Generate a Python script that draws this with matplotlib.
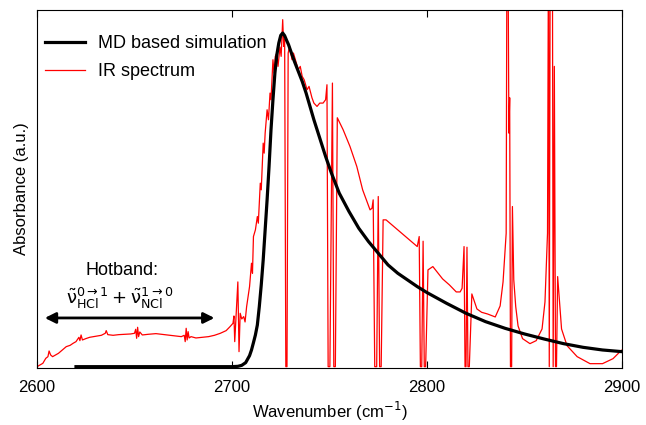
import numpy as np
import matplotlib
matplotlib.use("Agg")
import matplotlib.pyplot as plt

# MD based simulation (black curve), wavenumber in cm^-1, absorbance normalised to peak
md_wn = [2620, 2700, 2703, 2705, 2707, 2709, 2710, 2711, 2712, 2713, 2714, 2715,
         2716, 2717, 2718, 2719, 2720, 2721, 2722, 2723, 2724, 2725, 2726, 2727,
         2728, 2729, 2730, 2732, 2734, 2736, 2738, 2740, 2742, 2745, 2748, 2751,
         2755, 2760, 2765, 2770, 2775, 2780, 2785, 2790, 2795, 2800, 2810, 2820,
         2830, 2840, 2850, 2860, 2870, 2880, 2890, 2900]
md_abs = [0.0, 0.0, 0.001, 0.004, 0.012, 0.033, 0.05, 0.072, 0.095, 0.125, 0.18, 0.245,
          0.32, 0.41, 0.5, 0.6, 0.71, 0.8, 0.88, 0.935, 0.97, 0.993, 1.0, 0.992,
          0.978, 0.965, 0.948, 0.915, 0.885, 0.855, 0.82, 0.78, 0.74, 0.685, 0.63, 0.58,
          0.52, 0.465, 0.415, 0.375, 0.34, 0.305, 0.28, 0.26, 0.24, 0.222, 0.19, 0.16,
          0.135, 0.115, 0.098, 0.083, 0.069, 0.058, 0.05, 0.045]

# measured IR spectrum (red curve)
ir_wn = [2600.0, 2601.5, 2603, 2604.5, 2605.6, 2606.2, 2607, 2608, 2609.5, 2611,
         2613, 2615, 2617, 2618.5, 2620, 2621.5, 2622, 2622.6, 2623.3, 2625,
         2627, 2629, 2631, 2633, 2635, 2635.5, 2636.3, 2639, 2642, 2645,
         2648, 2650, 2650.6, 2651.1, 2651.6, 2652.1, 2652.7, 2654, 2657, 2661,
         2664, 2668, 2671, 2674, 2675.5, 2676, 2676.5, 2677, 2677.5, 2678,
         2679, 2681.5, 2685, 2688, 2691, 2694, 2697, 2699, 2700.5, 2701,
         2701.4, 2702, 2703, 2703.6, 2704.2, 2705, 2706, 2706.7, 2707.5, 2708,
         2709, 2710, 2710.5, 2711, 2712, 2713, 2713.5, 2714.5, 2715, 2716,
         2716.5, 2717, 2718, 2718.7, 2719.5, 2720, 2721, 2721.6, 2722.2, 2723,
         2723.6, 2724.6, 2725.2, 2726, 2726.5, 2727, 2727.6, 2728.2, 2728.8, 2729.5,
         2730.8, 2731.5, 2733, 2734, 2735, 2736, 2737, 2738.5, 2739.5, 2741,
         2742, 2743.6, 2745, 2746.7, 2748, 2748.7, 2749.3, 2750.2, 2751.5, 2752.2,
         2753, 2754, 2757, 2760.5, 2764, 2767, 2770.8, 2771.8, 2772.4, 2773.2,
         2774.2, 2775, 2775.7, 2776.5, 2777.5, 2779, 2781, 2786, 2791, 2795,
         2796, 2796.6, 2797.3, 2798, 2798.6, 2799.3, 2800.5, 2803, 2808, 2811.5,
         2815, 2817, 2818, 2819, 2819.5, 2820, 2820.5, 2821, 2821.7, 2823,
         2825.6, 2828, 2831, 2835, 2837.5, 2839, 2840.6, 2841.0, 2841.5, 2842.0,
         2842.4, 2842.8, 2843.4, 2843.8, 2844.5, 2845.5, 2846.7, 2849, 2852.8, 2856,
         2859, 2860.5, 2861.8, 2862.3, 2862.7, 2863.2, 2863.7, 2864.3, 2864.7, 2865.3,
         2865.9, 2866.4, 2867, 2869, 2871.8, 2877, 2883.6, 2890, 2895.4, 2899, 2900]
ir_abs = [0.0, 0.005, 0.01, 0.025, 0.03, 0.047, 0.035, 0.03, 0.035, 0.04,
          0.05, 0.06, 0.064, 0.07, 0.075, 0.088, 0.078, 0.095, 0.08, 0.084,
          0.088, 0.09, 0.092, 0.094, 0.1, 0.108, 0.096, 0.094, 0.096, 0.097,
          0.098, 0.1, 0.112, 0.085, 0.118, 0.09, 0.104, 0.095, 0.097, 0.099,
          0.097, 0.094, 0.092, 0.09, 0.094, 0.075, 0.115, 0.08, 0.105, 0.086,
          0.09, 0.086, 0.088, 0.09, 0.094, 0.1, 0.108, 0.12, 0.13, 0.152,
          0.075, 0.14, 0.254, 0.045, 0.16, 0.143, 0.15, 0.134, 0.18, 0.2,
          0.24, 0.31, 0.28, 0.39, 0.41, 0.45, 0.43, 0.55, 0.53, 0.67,
          0.64, 0.7, 0.77, 0.74, 0.82, 0.8, 0.92, 0.88, 0.93, 0.94,
          0.9, 0.958, 0.93, 1.04, 0.96, 0.98, 0.0, 0.0, 0.94, 0.96,
          0.92, 0.94, 0.91, 0.89, 0.9, 0.87, 0.86, 0.83, 0.84, 0.806,
          0.79, 0.78, 0.79, 0.79, 0.8, 0.845, 0.0, 0.0, 0.85, 0.0,
          0.0, 0.746, 0.71, 0.66, 0.6, 0.53, 0.47, 0.475, 0.5, 0.0,
          0.0, 0.51, 0.0, 0.0, 0.44, 0.44, 0.43, 0.405, 0.38, 0.36,
          0.39, 0.0, 0.0, 0.376, 0.0, 0.0, 0.29, 0.3, 0.263, 0.245,
          0.224, 0.224, 0.235, 0.36, 0.0, 0.0, 0.358, 0.0, 0.0, 0.218,
          0.173, 0.163, 0.158, 0.149, 0.182, 0.254, 0.4, 1.3, 1.3, 0.7,
          0.806, 0.0, 0.0, 0.48, 0.26, 0.18, 0.122, 0.084, 0.069, 0.078,
          0.113, 0.194, 0.4, 1.3, 0.0, 1.3, 1.3, 1.3, 0.0, 0.9,
          0.0, 0.0, 0.27, 0.113, 0.063, 0.03, 0.009, 0.009, 0.024, 0.045, 0.05]

xticks = [2600, 2700, 2800, 2900]

plt.rcParams["font.family"] = ["Liberation Sans", "DejaVu Sans"]
plt.rcParams["mathtext.fontset"] = "dejavusans"

fig = plt.figure(figsize=(6.46, 4.25), dpi=100)
ax = fig.add_axes([37 / 646, 57 / 425, 585 / 646, 358 / 425])

ax.plot(md_wn, md_abs, color="black", linewidth=2.3, label="MD based simulation", zorder=3)
ax.plot(ir_wn, ir_abs, color="red", linewidth=0.9, label="IR spectrum", zorder=2)

ax.set_xlim(2600, 2900)
ax.set_ylim(-0.004, 1.069)
ax.set_xticks(xticks)
ax.set_yticks([])
ax.tick_params(axis="x", direction="in", top=True, length=5, labelsize=12, pad=9)
ax.set_xlabel("Wavenumber (cm$^{-1}$)", fontsize=12, labelpad=3)
ax.set_ylabel("Absorbance (a.u.)", fontsize=12, labelpad=6)

ax.legend(loc="upper left", bbox_to_anchor=(0.002, 0.95), borderaxespad=0,
          frameon=False, fontsize=13, handlelength=2.2, handletextpad=0.7,
          labelspacing=0.6)

# hotband annotation
ax.annotate("", xy=(2604, 0.146), xytext=(2691, 0.146),
            arrowprops=dict(arrowstyle="<|-|>", color="black", lw=2.0,
                            mutation_scale=16, shrinkA=0, shrinkB=0))
ax.text(2643.5, 0.287, "Hotband:", ha="center", va="center", fontsize=13)
ax.text(2642.5, 0.205,
        r"$\tilde{\mathrm{\nu}}_{\mathrm{HCl}}^{0\rightarrow 1}+\tilde{\mathrm{\nu}}_{\mathrm{NCl}}^{1\rightarrow 0}$",
        ha="center", va="center", fontsize=13)

fig.savefig("out.png", dpi=100)
